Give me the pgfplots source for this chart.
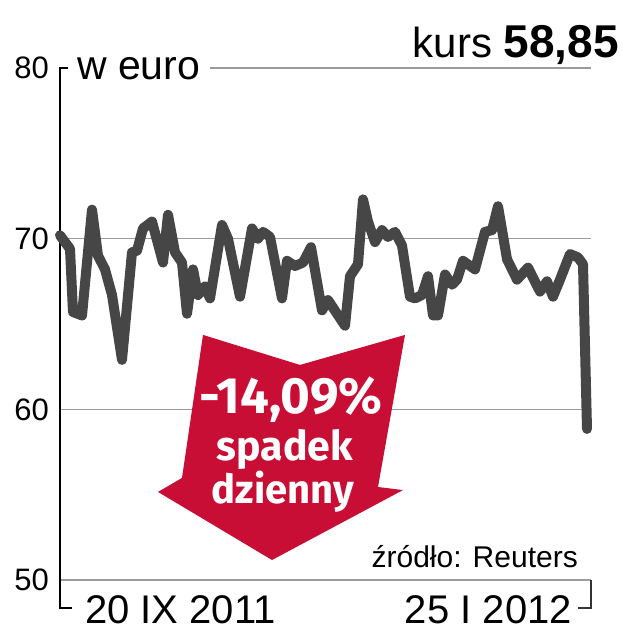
\documentclass[border=0pt]{standalone}
\usepackage{fontspec}
\usepackage{pgfplots}
\pgfplotsset{compat=1.18}
\setmainfont{Liberation Sans}
\newfontfamily\arrowfont{Fira Sans}
\definecolor{lin}{RGB}{70,70,70}
\definecolor{redA}{RGB}{200,14,52}
\definecolor{gridc}{RGB}{155,155,155}
\begin{document}
\begin{tikzpicture}[x=1pt,y=1pt]
\path[use as bounding box] (0,0) rectangle (623,640);
\begin{axis}[at={(60pt,60pt)}, anchor=south west, scale only axis,
  width=531pt, height=512pt, xmin=60, xmax=591, ymin=50, ymax=80,
  clip=false, axis line style={draw=none}, major tick length=0pt,
  xtick=\empty, ytick={50,60,70,80},
  yticklabel style={font=\fontsize{31}{31}\selectfont, anchor=east, inner sep=0pt, xshift=-11pt},
  /pgf/number format/assume math mode=true]
% grid lines
\draw[gridc, line width=1.3pt] (60,70) -- (591,70);
\draw[gridc, line width=1.3pt] (60,60) -- (591,60);
\draw[gridc, line width=1.3pt] (210,80) -- (591,80);
\draw[gridc, line width=1.3pt] (60,50) -- (591,50);
% axis brackets
\draw[black, line width=1.5pt] (68,80) -- (60,80) -- (60,48.36) -- (72,48.36);
\draw[black!80, line width=1.2pt] (591,50) -- (591,48.36) -- (578,48.36);
% arrow
\fill[redA] (203,64.36) -- (300,62.60) -- (405,64.36) -- (378,55.45) -- (403,55.27)
  -- (272,51.17) -- (158,55.16) -- (182,55.98) -- cycle;
\node[anchor=base, text=white, inner sep=0pt, font=\arrowfont\bfseries\fontsize{51}{51}\selectfont] at (291,59.78) {-14,09\%};
\node[anchor=base, text=white, inner sep=0pt, font=\arrowfont\bfseries\fontsize{41}{41}\selectfont] at (285,57.03) {spadek};
\node[anchor=base, text=white, inner sep=0pt, font=\arrowfont\bfseries\fontsize{40}{40}\selectfont] at (283,54.48) {dzienny};
% texts
\node[anchor=base west, inner sep=0pt, font=\fontsize{41}{41}\selectfont] at (77,79.30) {w euro};
\node[anchor=base east, inner sep=0pt, font=\fontsize{42}{42}\selectfont] at (619,80.59) {kurs {\fontsize{46}{46}\selectfont\bfseries 58,85}};
\node[anchor=base east, inner sep=0pt, font=\fontsize{30}{30}\selectfont] at (578,50.76) {źródło: Reuters};
\node[anchor=base west, inner sep=0pt, font=\fontsize{40}{40}\selectfont] at (85,47.48) {20 IX 2011};
\node[anchor=base east, inner sep=0pt, font=\fontsize{40}{40}\selectfont] at (572,47.48) {25 I 2012};
% data
\addplot[lin, line width=10pt, line join=round, line cap=round, mark=none] coordinates {
(60,70.2) (70,69.4) (73,65.7) (82,65.5) (92,71.7) (98,69.0) (105,68.2) (112,66.7)
(122,62.9) (132,69.2) (137,69.3) (143,70.6) (152,71.0) (163,68.6) (168,71.4) (175,69.2)
(182,68.6) (187,65.6) (193,68.2) (198,66.7) (205,67.2) (210,66.5) (222,70.8) (228,70.0)
(240,66.6) (252,70.6) (258,70.0) (263,70.4) (270,70.1) (282,66.5) (287,68.7) (295,68.4)
(303,68.6) (311,69.5) (322,65.8) (328,66.4) (345,64.9) (350,67.8) (358,68.5) (363,72.3)
(368,71.0) (375,69.8) (382,70.5) (388,70.1) (395,70.4) (402,69.6) (410,66.6) (415,66.5)
(422,66.7) (428,67.8) (433,65.5) (438,65.5) (445,67.9) (452,67.3) (457,67.6) (463,68.7)
(475,68.2) (485,70.4) (492,70.5) (498,71.9) (507,68.8) (517,67.6) (528,68.3) (540,66.9)
(547,67.5) (553,66.6) (560,67.6) (570,69.1) (578,68.9) (583,68.5) (587,58.85)
};
\end{axis}
\end{tikzpicture}
\end{document}
